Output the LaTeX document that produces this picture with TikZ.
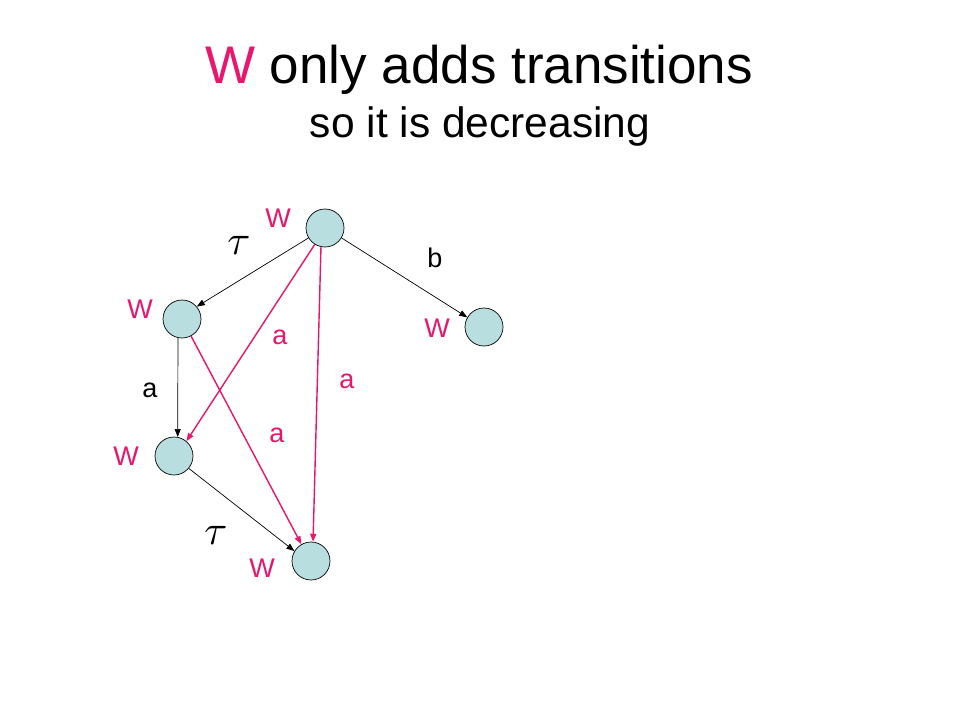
\documentclass[tikz,border=0pt]{standalone}
\usepackage{fontspec}
\setmainfont{Liberation Sans}
\usetikzlibrary{arrows.meta}
\definecolor{wpink}{RGB}{232,22,108}
\definecolor{stfill}{RGB}{184,222,224}
\newcommand{\tauglyph}{\scalebox{4.2}{$\tau$}}
\tikzset{
  state/.style={circle,draw=black,line width=0.7pt,fill=stfill,minimum size=38pt,inner sep=0pt},
  wlab/.style={text=wpink,font=\fontsize{27}{30}\selectfont,inner sep=0pt},
  blab/.style={text=black,font=\fontsize{27}{30}\selectfont,inner sep=0pt},
  plab/.style={text=wpink,font=\fontsize{27}{30}\selectfont,inner sep=0pt},
  tlab/.style={text=black,inner sep=0pt},
  bedge/.style={draw=black,line width=0.7pt,-{Triangle[length=8pt,width=6pt]}},
  pedge/.style={draw=wpink,line width=1.4pt,-{Triangle[length=8pt,width=6pt]}}
}
\begin{document}
\begin{tikzpicture}[x=1pt,y=-1pt]
\useasboundingbox[fill=white] (0,0) rectangle (960,720);
% title
\node[anchor=base,inner sep=0pt,font=\fontsize{53}{60}\selectfont] (title) at (479,83) {\textcolor{wpink}{W} only adds transitions};
\node[anchor=base,inner sep=0pt,font=\fontsize{42.5}{48}\selectfont] (subtitle) at (480,137) {so it is decreasing};
% states
\node[state] (top) at (325,228) {};
\node[state] (l1) at (182,319) {};
\node[state] (r) at (484,327) {};
\node[state] (l2) at (174,456) {};
\node[state] (bot) at (311,561) {};
% W labels
\node[wlab] (wtop) at (278,218) {W};
\node[wlab] (wl1) at (140,309) {W};
\node[wlab] (wr) at (437,328) {W};
\node[wlab] (wl2) at (126,456) {W};
\node[wlab] (wbot) at (262,568) {W};
% edges
\draw[bedge] (top.211) -- (l1.40);
\draw[bedge] (top.-31) -- (r.150);
\draw[bedge] (l1.-102) -- (l2.79);
\draw[bedge] (l2.-40) -- (bot.149);
\draw[pedge] (top.-122) -- (l2.50);
\draw[pedge] (top.-102) -- (bot.84);
\draw[pedge] (l1.-62) -- (bot.120);
% edge labels
\node[tlab] (t1) at (239,245) {\tauglyph};
\node[blab] (b1) at (435,258) {b};
\node[blab] (a1) at (150,390) {a};
\node[tlab] (t2) at (216,535) {\tauglyph};
\node[plab] (a2) at (280,337) {a};
\node[plab] (a3) at (347,381) {a};
\node[plab] (a4) at (277,435) {a};
\end{tikzpicture}
\end{document}
